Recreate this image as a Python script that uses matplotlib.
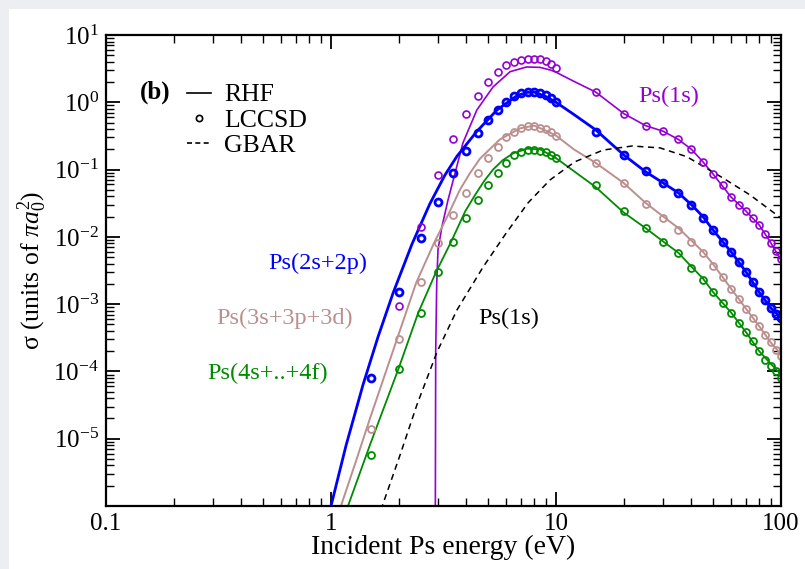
import numpy as np
import matplotlib
matplotlib.use('Agg')
import matplotlib.pyplot as plt
from matplotlib.lines import Line2D
from matplotlib.patches import Rectangle
from matplotlib.ticker import LogLocator, NullFormatter

plt.rcParams['font.family'] = ['Liberation Serif', 'DejaVu Serif']
plt.rcParams['mathtext.fontset'] = 'custom'
plt.rcParams['mathtext.rm'] = 'Liberation Serif'
plt.rcParams['mathtext.it'] = 'Liberation Serif:italic'
plt.rcParams['mathtext.bf'] = 'Liberation Serif:bold'
plt.rcParams['axes.unicode_minus'] = False

# colours (grace palette)
c_1s = '#9400d3'
c_2 = '#0000ff'
c_3 = '#bc8f8f'
c_4 = '#008b00'

# ---- LCCSD points ----
E_cc = [1.5, 2.0, 2.5, 3.0, 3.5, 4.0, 4.5, 5.0, 5.5, 6.0, 6.5, 7.0, 7.5, 8.0, 8.5, 9.0, 9.5, 10,
        15, 20, 25, 30, 35, 40, 45, 50, 55, 60, 65, 70, 75, 80, 85, 90, 95, 100]
cc_1s = [np.nan, 9.3e-4, 0.014, 0.083, 0.285, 0.67, 1.24, 2.0, 2.82, 3.58, 3.98, 4.3, 4.45, 4.45, 4.35, 4.1, 3.7, 3.2,
         1.42, 0.67, 0.45, 0.37, 0.28, 0.2, 0.13, 0.085, 0.059, 0.039, 0.03, 0.024, 0.019, 0.015, 0.011, 0.0082, 0.0062, 0.0047]
cc_2 = [8.1e-5, 1.5e-3, 9.6e-3, 0.033, 0.089, 0.19, 0.35, 0.55, 0.77, 1.0, 1.25, 1.38, 1.42, 1.42, 1.38, 1.3, 1.15, 1.02,
        0.36, 0.165, 0.094, 0.063, 0.045, 0.03, 0.019, 0.0125, 0.0085, 0.006, 0.0042, 0.003, 0.0021, 0.0015, 0.00115, 0.00088, 0.00072, 0.00063]
cc_3 = [1.4e-5, 3.0e-4, 2.1e-3, 8.1e-3, 0.021, 0.045, 0.089, 0.148, 0.22, 0.3, 0.36, 0.41, 0.44, 0.44, 0.42, 0.4, 0.36, 0.32,
        0.126, 0.063, 0.031, 0.019, 0.0125, 0.0083, 0.0057, 0.0037, 0.0025, 0.0017, 0.0012, 0.00085, 0.00062, 0.00047, 0.00035, 0.00027, 0.00021, 0.00017]
cc_4 = [5.8e-6, 1.1e-4, 7.5e-4, 3.0e-3, 8.3e-3, 0.019, 0.035, 0.059, 0.089, 0.126, 0.166, 0.185, 0.195, 0.195, 0.19, 0.18, 0.165, 0.148,
        0.058, 0.024, 0.0135, 0.0083, 0.0057, 0.0035, 0.0023, 0.0015, 0.00105, 0.00074, 0.00052, 0.00038, 0.00028, 0.0002, 0.00015, 0.00012, 0.0001, 0.00008]

# ---- RHF curves ----
E_1s = [2.90, 2.92, 2.95, 2.99, 3.11, 3.31, 3.86, 4.45, 5.25, 6.25, 7.4, 8.5, 9.5, 10, 12, 15, 20, 25, 30, 35, 40, 45, 50, 60, 70, 80, 90, 100]
rhf_1s = [1e-8, 2e-4, 2e-3, 6.5e-3, 0.014, 0.035, 0.25, 0.77, 1.69, 2.85, 3.35, 3.3, 3.0, 2.8, 2.05, 1.42, 0.68, 0.45, 0.37, 0.28, 0.2, 0.13, 0.085, 0.039, 0.024, 0.015, 0.0082, 0.0045]

E_2 = [0.97, 1.0, 1.166, 1.387, 1.62, 1.89, 2.29, 2.75, 3.21, 3.63, 4.45, 5.47, 6.7, 7.4, 8.0, 9.0, 10, 12, 15, 20, 25, 30, 35, 40, 45, 50, 60, 70, 80, 90, 100]
rhf_2 = [5e-7, 1e-6, 7.9e-6, 6.3e-5, 3.3e-4, 1.48e-3, 7.8e-3, 0.031, 0.083, 0.158, 0.37, 0.77, 1.25, 1.4, 1.42, 1.22, 1.0, 0.66, 0.39, 0.165, 0.093, 0.063, 0.045, 0.03, 0.02, 0.0125, 0.006, 0.003, 0.0015, 0.00088, 0.00063]

E_3 = [1.07, 1.107, 1.29, 1.49, 1.96, 2.39, 2.87, 3.31, 3.74, 4.15, 4.59, 5.63, 6.92, 8.0, 9.0, 10, 12, 15, 20, 25, 30, 35, 40, 45, 50, 60, 70, 80, 90, 100]
rhf_3 = [6e-7, 1e-6, 4.6e-6, 2.0e-5, 2.95e-4, 2.07e-3, 8.1e-3, 0.021, 0.05, 0.089, 0.145, 0.28, 0.41, 0.45, 0.38, 0.32, 0.2, 0.126, 0.063, 0.032, 0.02, 0.0135, 0.0088, 0.006, 0.0039, 0.0017, 0.00085, 0.00047, 0.00027, 0.00018]

E_4 = [1.16, 1.19, 1.49, 2.0, 2.44, 2.93, 3.41, 3.95, 4.37, 4.8, 5.25, 5.8, 6.44, 7.43, 8.5, 10, 12, 15, 20, 25, 30, 35, 40, 45, 50, 60, 70, 80, 90, 100]
rhf_4 = [6e-7, 1e-6, 8.1e-6, 1.12e-4, 7.4e-4, 3.0e-3, 8.3e-3, 0.024, 0.042, 0.068, 0.1, 0.138, 0.174, 0.204, 0.2, 0.148, 0.095, 0.055, 0.023, 0.0135, 0.0085, 0.0058, 0.0036, 0.0024, 0.0015, 0.00075, 0.00038, 0.0002, 0.00013, 0.00009]

# ---- GBAR ----
E_gb = [1.66, 1.69, 2.03, 2.41, 2.96, 3.63, 4.74, 5.93, 7.51, 9.4, 12.1, 16.2, 21.8, 29, 38.2, 55.2, 72.8, 100]
gbar = [6e-7, 1e-6, 5.8e-6, 3.2e-5, 1.95e-4, 8.2e-4, 3.55e-3, 0.0107, 0.032, 0.07, 0.13, 0.195, 0.224, 0.21, 0.155, 0.075, 0.042, 0.019]

xticks = [0.1, 1, 10, 100]
xticklabels = ['0.1', '1', '10', '100']
yticks = [1e-6, 1e-5, 1e-4, 1e-3, 1e-2, 1e-1, 1e0, 1e1]
yticklabels = ['', r'$10^{-5}$', r'$10^{-4}$', r'$10^{-3}$', r'$10^{-2}$', r'$10^{-1}$', r'$10^{0}$', r'$10^{1}$']

fig = plt.figure(figsize=(8.05, 5.69), dpi=100)
fig.patch.set_facecolor('#eceef1')
fig.patches.append(Rectangle((9/805, 0), 1, 1 - 9/569, transform=fig.transFigure,
                             facecolor='white', edgecolor='none', zorder=-10))
ax = fig.add_axes([106/805, 63/569, 675/805, 471/569])
ax.set_zorder(5)
ax.set_facecolor('white')

# RHF lines
ax.plot(E_1s, rhf_1s, color=c_1s, lw=1.2)
ax.plot(E_2, rhf_2, color=c_2, lw=2.0)
ax.plot(E_3, rhf_3, color=c_3, lw=1.4)
ax.plot(E_4, rhf_4, color=c_4, lw=1.3)
ax.plot(E_gb, gbar, color='black', lw=1.1, ls=(0, (4, 3)))

# LCCSD circles
ax.plot(E_cc, cc_1s, 'o', mfc='none', mec=c_1s, ms=5, mew=1.2)
ax.plot(E_cc, cc_2, 'o', mfc='none', mec=c_2, ms=5, mew=2.0)
ax.plot(E_cc, cc_3, 'o', mfc='none', mec=c_3, ms=5, mew=1.3)
ax.plot(E_cc, cc_4, 'o', mfc='none', mec=c_4, ms=5, mew=1.3)

ax.set_xscale('log')
ax.set_yscale('log')
ax.set_xlim(0.1, 100)
ax.set_ylim(1e-6, 10)
ax.set_xticks(xticks, xticklabels)
ax.set_yticks(yticks, yticklabels)
ax.xaxis.set_minor_locator(LogLocator(base=10, subs=np.arange(2, 10), numticks=100))
ax.yaxis.set_minor_locator(LogLocator(base=10, subs=np.arange(2, 10), numticks=100))
ax.xaxis.set_minor_formatter(NullFormatter())
ax.yaxis.set_minor_formatter(NullFormatter())
ax.tick_params(which='both', direction='in', top=True, right=True, labelsize=18, colors='black')
ax.tick_params(which='major', length=10, width=1.3, pad=5)
ax.tick_params(which='minor', length=5.5, width=1.0)
for s in ax.spines.values():
    s.set_linewidth(1.6)

ax.set_xlabel('Incident Ps energy (eV)', fontsize=20, labelpad=0)
ax.set_ylabel(r'σ (units of $\pi a_0^2$)', fontsize=18.5)
ax.yaxis.set_label_coords(-0.084, 0.5)

# legend
handles = [Line2D([], [], color='black', lw=1.2),
           Line2D([], [], marker='o', ls='none', mfc='none', mec='black', ms=4.5, mew=1.2),
           Line2D([], [], color='black', lw=1.2, ls=(0, (3, 2)))]
ax.legend(handles, ['RHF', 'LCCSD', 'GBAR'], loc='upper left', bbox_to_anchor=(0.12, 0.897),
          frameon=False, fontsize=18.5, handlelength=0.95, handletextpad=0.5, labelspacing=0.08,
          borderpad=0, borderaxespad=0)
ax.text(0.05, 0.879, '(b)', transform=ax.transAxes, fontsize=18, fontweight='bold', va='center', ha='left')

ax.text(0.834, 0.870, 'Ps(1s)', transform=ax.transAxes, color=c_1s, fontsize=17.5, ha='center', va='center')
ax.text(0.314, 0.514, 'Ps(2s+2p)', transform=ax.transAxes, color=c_2, fontsize=17.5, ha='center', va='center')
ax.text(0.264, 0.399, 'Ps(3s+3p+3d)', transform=ax.transAxes, color=c_3, fontsize=17.5, ha='center', va='center')
ax.text(0.240, 0.282, 'Ps(4s+..+4f)', transform=ax.transAxes, color=c_4, fontsize=17.5, ha='center', va='center')
ax.text(0.596, 0.399, 'Ps(1s)', transform=ax.transAxes, color='black', fontsize=17.5, ha='center', va='center')

fig.savefig('out.png', dpi=100, facecolor=fig.get_facecolor())
